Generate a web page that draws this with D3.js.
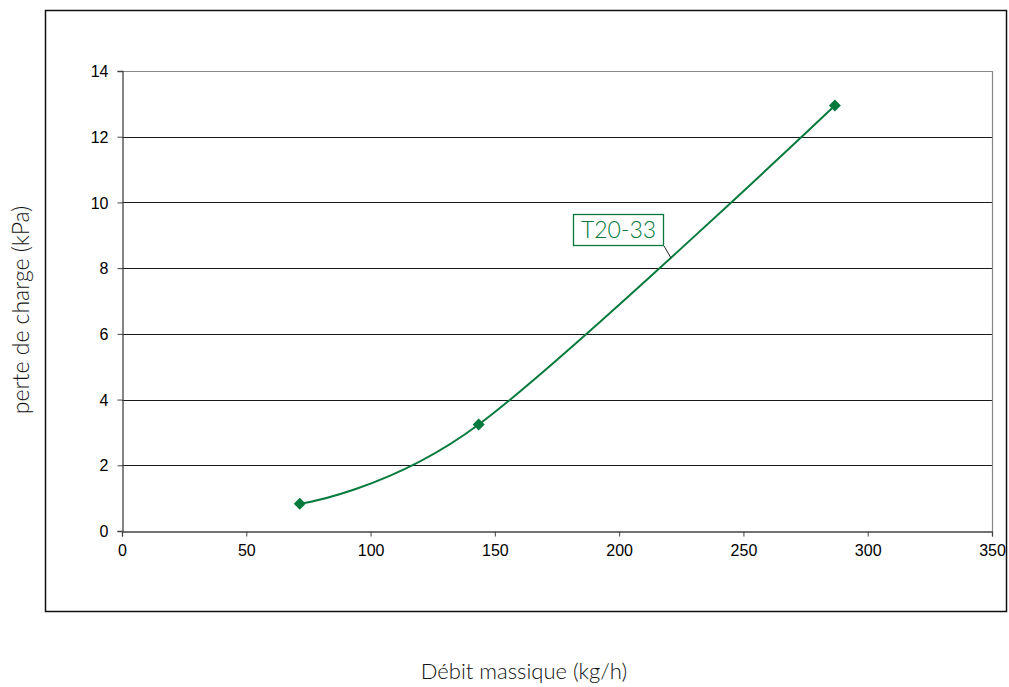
<!DOCTYPE html>
<html>
<head>
<meta charset="utf-8">
<script src="https://cdn.jsdelivr.net/npm/d3@7"></script>
<style>
  body { margin: 0; background: #fff; }
  text { font-family: "Liberation Sans", Arial, sans-serif; }
  .title { font-family: Lato, "Open Sans", sans-serif; font-weight: 300; }
</style>
</head>
<body>
<script>
// data
let debit = [71.5, 143.5, 286.8];
let perte = [0.83, 3.24, 12.95];
let serieName = "T20-33";
let xTicks = [0, 50, 100, 150, 200, 250, 300, 350];
let yTicks = [0, 2, 4, 6, 8, 10, 12, 14];

let W = 1009, H = 687;
let plot = { left: 122, right: 992, top: 71, bottom: 531 };
let green = "#067a3c";

let svg = d3.select("body").append("svg")
  .attr("width", W)
  .attr("height", H);

// outer frame
svg.append("rect")
  .attr("x", 45.5).attr("y", 10.5)
  .attr("width", 961).attr("height", 601)
  .attr("fill", "none")
  .attr("stroke", "#111")
  .attr("stroke-width", 1.5);

let x = d3.scaleLinear().domain([0, 350]).range([plot.left, plot.right]);
let y = d3.scaleLinear().domain([0, 14]).range([plot.bottom, plot.top]);

// grid lines
svg.append("g")
  .selectAll("line")
  .data(yTicks.filter(d => d > 0 && d < 14))
  .enter()
  .append("line")
  .attr("x1", plot.left).attr("x2", plot.right)
  .attr("y1", d => Math.round(y(d)) + 0.5)
  .attr("y2", d => Math.round(y(d)) + 0.5)
  .attr("stroke", "#1a1a1a")
  .attr("stroke-width", 1);

// top and right border of the plot area
svg.append("path")
  .attr("d", "M" + plot.left + "," + (plot.top + 0.5) + "H" + (plot.right + 0.5) + "V" + plot.bottom)
  .attr("fill", "none")
  .attr("stroke", "#888")
  .attr("stroke-width", 1.2);

// axes
let xAxis = d3.axisBottom(x).tickValues(xTicks).tickSize(5).tickPadding(8);
let gx = svg.append("g")
  .attr("transform", "translate(0," + (plot.bottom + 0.5) + ")")
  .call(xAxis);

let yAxis = d3.axisLeft(y).tickValues(yTicks).tickSize(5).tickPadding(9);
let gy = svg.append("g")
  .attr("transform", "translate(" + (plot.left + 0.5) + ",0)")
  .call(yAxis);

[gx, gy].forEach(g => {
  g.attr("font-size", null).attr("font-family", null);
  g.select(".domain").attr("stroke", "#444").attr("stroke-width", 1.3);
  g.selectAll(".tick line").attr("stroke", "#444");
  g.selectAll(".tick text")
    .attr("fill", "#000")
    .attr("font-size", 16)
    .style("font-family", '"Liberation Sans", Arial, sans-serif');
});
gy.selectAll(".tick text").attr("dy", "0.35em");

// the series
let pts = debit.map((d, i) => [d, perte[i]]);
let line = d3.line()
  .x(d => x(d[0]))
  .y(d => y(d[1]))
  .curve(d3.curveCatmullRom.alpha(0));

svg.append("path")
  .datum(pts)
  .attr("d", line)
  .attr("fill", "none")
  .attr("stroke", green)
  .attr("stroke-width", 2);

svg.append("g")
  .selectAll("path")
  .data(pts)
  .enter()
  .append("path")
  .attr("d", d3.symbol(d3.symbolSquare, 72))
  .attr("transform", d => "translate(" + x(d[0]) + "," + y(d[1]) + ") rotate(45)")
  .attr("fill", green);

// series label with leader line
let lab = svg.append("g");
lab.append("line")
  .attr("x1", 664).attr("y1", 246)
  .attr("x2", 671).attr("y2", 258)
  .attr("stroke", "#222")
  .attr("stroke-width", 1);
lab.append("rect")
  .attr("x", 573.5).attr("y", 214.5)
  .attr("width", 90).attr("height", 31)
  .attr("fill", "#fff")
  .attr("stroke", green)
  .attr("stroke-width", 1.3);
lab.append("text")
  .attr("class", "title")
  .attr("x", 618.5).attr("y", 238)
  .attr("text-anchor", "middle")
  .attr("fill", green)
  .style("font-size", "23px")
  .text(serieName);

// axis titles
svg.append("text")
  .attr("class", "title")
  .attr("transform", "translate(29," + 310 + ") rotate(-90)")
  .attr("text-anchor", "middle")
  .attr("fill", "#111")
  .style("font-size", "23px")
  .text("perte de charge (kPa)");

svg.append("text")
  .attr("class", "title")
  .attr("x", 524).attr("y", 679)
  .attr("text-anchor", "middle")
  .attr("fill", "#111")
  .style("font-size", "22px")
  .text("Débit massique (kg/h)");
</script>
</body>
</html>
